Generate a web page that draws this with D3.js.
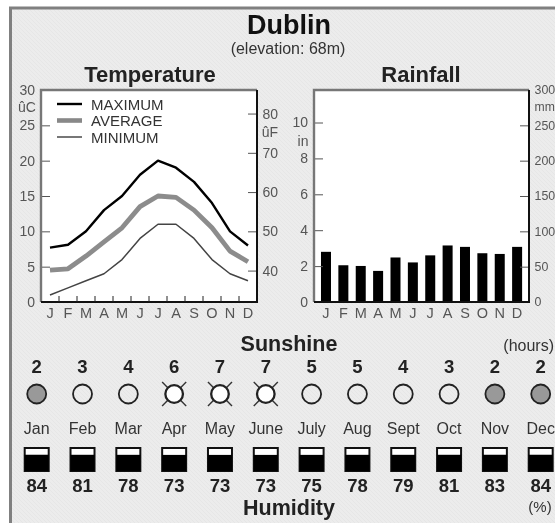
<!DOCTYPE html>
<html><head><meta charset="utf-8">
<script src="https://cdn.jsdelivr.net/npm/d3@7/dist/d3.min.js"></script>
<style>html,body{margin:0;padding:0;background:#fff}svg{display:block;font-family:"Liberation Sans",Arial,sans-serif;filter:blur(0.45px)}</style>
</head><body><div id="c"></div>
<script>
const title="Dublin", subtitle="(elevation: 68m)";
const monthInitials=["J","F","M","A","M","J","J","A","S","O","N","D"];
const monthNames=["Jan","Feb","Mar","Apr","May","June","July","Aug","Sept","Oct","Nov","Dec"];
const tempMax=[7.7,8.1,10,13,15,18,20,19,17,14,10,8];
const tempAvg=[4.5,4.7,6.5,8.5,10.5,13.5,15,14.8,13,10.5,7.2,5.7];
const tempMin=[1,2,3,4,6,9,11,11,9,6,4,3];
const rainMm=[71,52,51,44,63,56,66,80,78,69,68,78];
const sunshine=[2,3,4,6,7,7,5,5,4,3,2,2];
const humidity=[84,81,78,73,73,73,75,78,79,81,83,84];
const cTicks=[0,5,10,15,20,25,30], fTicks=[40,50,60,70,80];
const inTicks=[0,2,4,6,8,10], mmTicks=[0,50,100,150,200,250,300];
const legendItems=[["MAXIMUM","#000",2.4],["AVERAGE","#888",4.6],["MINIMUM","#777",2]];

const W=555,H=523;
const svg=d3.select("#c").append("svg").attr("width",W).attr("height",H);
const defs=svg.append("defs");
const pat=defs.append("pattern").attr("id","bg").attr("width",4).attr("height",4).attr("patternUnits","userSpaceOnUse");
pat.append("rect").attr("width",4).attr("height",4).attr("fill","#ececec");
pat.append("path").attr("d","M0 0L4 4").attr("stroke","#e6e6e6").attr("stroke-width",1);
svg.append("rect").attr("x",10.5).attr("y",8).attr("width",W+20).attr("height",H+20)
  .attr("fill","url(#bg)").attr("stroke","#808080").attr("stroke-width",3);
const txt=(x,y,s,size,o={})=>svg.append("text").attr("x",x).attr("y",y).text(s)
  .attr("font-size",size).attr("font-weight",o.bold?"bold":"normal").attr("fill",o.fill||"#222")
  .attr("text-anchor",o.anchor||"middle").attr("dominant-baseline","central");
txt(289,25,title,27,{bold:1,fill:"#111"});
txt(288,48,subtitle,16,{fill:"#333"});
txt(150,74,"Temperature",22,{bold:1});
txt(421,74,"Rainfall",22,{bold:1});
txt(289,344,"Sunshine",21.5,{bold:1});
txt(289,508,"Humidity",21.5,{bold:1});
txt(554,345,"(hours)",16,{anchor:"end",fill:"#333"});
txt(540,506,"(%)",15,{fill:"#333"});

const plotTop=90,plotBottom=302;
function panel(x0,x1,yL,yR,ticksL,ticksR,inner,rightSize){
  svg.append("rect").attr("x",x0).attr("y",plotTop).attr("width",x1-x0).attr("height",plotBottom-plotTop).attr("fill","#fff");
  inner();
  const gL=svg.append("g").attr("transform",`translate(${x0},0)`)
    .call(d3.axisLeft(yL).tickValues(ticksL).tickSize(-9).tickSizeOuter(0));
  const gR=svg.append("g").attr("transform",`translate(${x1},0)`)
    .call(d3.axisRight(yR).tickValues(ticksR).tickSize(-9).tickSizeOuter(0));
  [gL,gR].forEach(g=>{g.select(".domain").remove();
    g.selectAll("line").attr("stroke","#555").attr("stroke-width",1);
    g.selectAll("text").attr("font-size",14).attr("font-family","inherit").attr("fill","#555");});
  gL.selectAll("text").attr("x",-6);
  gR.selectAll("text").attr("x",5.5).attr("font-size",rightSize);
  svg.append("path").attr("d",`M${x0} ${plotBottom}V${plotTop}H${x1}`).attr("fill","none").attr("stroke","#777").attr("stroke-width",2.4);
  svg.append("path").attr("d",`M${x0} ${plotBottom}H${x1}V${plotTop}`).attr("fill","none").attr("stroke","#111").attr("stroke-width",2);
}
// Temperature
const tx=d3.scaleBand().domain(d3.range(12)).range([41,257]);
const cy=d3.scaleLinear().domain([0,30]).range([plotBottom,plotTop]);
const fy=d3.scaleLinear().domain([32,86]).range([plotBottom,plotTop]);
const line=d3.line().x((d,i)=>tx(i)+tx.bandwidth()/2).y(d=>cy(d));
panel(41,257,cy,fy,cTicks,fTicks,()=>{
  const g=svg.append("g").attr("fill","none").attr("stroke-linejoin","round");
  g.append("path").attr("d",line(tempMin)).attr("stroke","#444").attr("stroke-width",1.5);
  g.append("path").attr("d",line(tempAvg)).attr("stroke","#8c8c8c").attr("stroke-width",4.8);
  g.append("path").attr("d",line(tempMax)).attr("stroke","#000").attr("stroke-width",2.4);
  const lx=d3.scaleLinear().domain([0,1]).range([57,82]);
  const ly=d3.scalePoint().domain(legendItems.map(d=>d[0])).range([104,137]);
  legendItems.forEach(d=>{
    svg.append("line").attr("x1",lx(0)).attr("x2",lx(1)).attr("y1",ly(d[0])).attr("y2",ly(d[0])).attr("stroke",d[1]).attr("stroke-width",d[2]);
    txt(91,ly(d[0]),d[0],15,{anchor:"start",fill:"#333"});
  });
},14);
txt(27,107,"ûC",14,{fill:"#555"});
txt(270,132,"ûF",14,{fill:"#555"});
// Rain
const rx=d3.scaleBand().domain(d3.range(12)).range([317.3,525.8]);
const mmy=d3.scaleLinear().domain([0,300]).range([plotBottom,plotTop]);
const iny=d3.scaleLinear().domain([0,300/25.4]).range([plotBottom,plotTop]);
panel(314,529,iny,mmy,inTicks,mmTicks,()=>{
  svg.append("g").selectAll("rect").data(rainMm).join("rect")
    .attr("x",(d,i)=>rx(i)+rx.bandwidth()/2-5).attr("width",10)
    .attr("y",d=>mmy(d)).attr("height",d=>plotBottom-mmy(d)).attr("fill","#000");
},12.4);
txt(303,141,"in",14,{fill:"#555"});
txt(534.5,107,"mm",12.2,{fill:"#555",anchor:"start"});
// x labels
monthInitials.forEach((m,i)=>{
  txt(tx(i)+tx.bandwidth()/2,313,m,14.5,{fill:"#555"});
  txt(rx(i)+rx.bandwidth()/2,313,m,14.5,{fill:"#555"});
});
svg.append("g").attr("transform",`translate(0,${plotBottom})`).selectAll("line").data(d3.range(1,12)).join("line")
  .attr("x1",i=>tx(i)).attr("x2",i=>tx(i)).attr("y1",0).attr("y2",-6).attr("stroke","#222");
// Bottom strip
const cx=d3.scalePoint().domain(d3.range(12)).range([36.7,540.7]);
const boxFill=d3.scaleLinear().domain([0,100]).range([15,16.5]);
monthNames.forEach((m,i)=>{
  const x=cx(i);
  txt(x,366,sunshine[i],18.5,{bold:1});
  const s=sunshine[i];
  if(s>=6){
    [45,135,225,315].forEach(a=>{const r=a*Math.PI/180;
      svg.append("line").attr("x1",x+Math.cos(r)*9).attr("y1",394+Math.sin(r)*9).attr("x2",x+Math.cos(r)*17).attr("y2",394+Math.sin(r)*17).attr("stroke","#333").attr("stroke-width",1.4);});
  }
  svg.append("circle").attr("cx",x).attr("cy",394).attr("r",s>=6?8.8:9.5)
    .attr("fill",s<=2?"#999":(s>=6?"#fff":"none")).attr("stroke","#222").attr("stroke-width",s>=6?2.3:1.8);
  txt(x,428,m,16,{fill:"#333"});
  svg.append("rect").attr("x",x-12).attr("y",448).attr("width",24).attr("height",23).attr("fill","#fff").attr("stroke","#111").attr("stroke-width",2);
  const h=boxFill(humidity[i]);
  svg.append("rect").attr("x",x-12).attr("y",471-h).attr("width",24).attr("height",h).attr("fill","#000");
  txt(x,485,humidity[i],18.5,{bold:1});
});
</script></body></html>
